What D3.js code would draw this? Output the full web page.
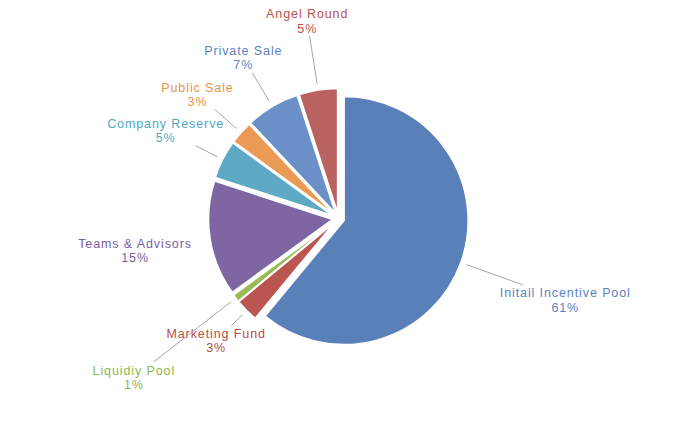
<!DOCTYPE html>
<html>
<head>
<meta charset="utf-8">
<script src="https://cdn.jsdelivr.net/npm/d3@7"></script>
<style>
  html, body { margin: 0; padding: 0; background: #ffffff; }
  svg { display: block; }
</style>
</head>
<body>
<svg id="chart" width="696" height="425"></svg>
<script>
// ---- data ----
const categories = ["Initail Incentive Pool", "Marketing Fund", "Liquidiy Pool", "Teams & Advisors",
                    "Company Reserve", "Public Sale", "Private Sale", "Angel Round"];
const shares = [61, 3, 1, 15, 5, 3, 7, 5];
const percentLabels = ["61%", "3%", "1%", "15%", "5%", "3%", "7%", "5%"];

// ---- layout / style ----
const sliceColors = ["#5a80b9", "#bb5550", "#9bbb59", "#7e66a3", "#5eaac6", "#eb9a56", "#6b90c8", "#b9625f"];
const textColors  = ["#5b82c0", "#b84c47", "#8db64f", "#7a5fa3", "#4fa9c4", "#e8924a", "#5b84c4", "#bb524f"];
const labelDistance = [241, 173, 259, 206, 194, 188, 187, 200];

const W = 696, H = 425;
const cx = 338.5, cy = 218.5, radius = 124, explode = 6;
const leaderStart = radius + explode + 6;

const svg = d3.select("#chart");
const g = svg.append("g").attr("transform", `translate(${cx},${cy})`);

const rows = categories.map((c, i) => ({ name: c, value: shares[i], pct: percentLabels[i], i }));
const pie = d3.pie().sort(null).value(d => d.value).startAngle(0).endAngle(2 * Math.PI);
const arcs = pie(rows);
const arcGen = d3.arc().innerRadius(0).outerRadius(radius);

const mid = a => (a.startAngle + a.endAngle) / 2;
const dir = a => [Math.sin(mid(a)), -Math.cos(mid(a))];

// slices
g.selectAll("path.slice")
  .data(arcs)
  .join("path")
  .attr("class", "slice")
  .attr("d", arcGen)
  .attr("transform", a => { const [ux, uy] = dir(a); return `translate(${ux * explode},${uy * explode})`; })
  .attr("fill", a => sliceColors[a.data.i])
  .attr("stroke", "#ffffff")
  .attr("stroke-width", 1.5)
  .attr("stroke-linejoin", "miter");

// labels
const fontSize = 12.5, lineH = 14.3;
const labels = g.selectAll("g.lab")
  .data(arcs)
  .join("g")
  .attr("class", "lab")
  .attr("transform", a => { const [ux, uy] = dir(a); const dd = labelDistance[a.data.i]; return `translate(${ux * dd},${uy * dd})`; });

labels.append("text")
  .attr("text-anchor", "middle")
  .attr("font-family", "'Liberation Sans', Arial, sans-serif")
  .attr("font-size", fontSize)
  .attr("letter-spacing", 0.9)
  .attr("fill", a => textColors[a.data.i])
  .each(function (a) {
    const t = d3.select(this);
    t.append("tspan").attr("x", 0).attr("y", -lineH / 2 + 4.5).text(a.data.name);
    t.append("tspan").attr("x", 0).attr("y", lineH / 2 + 4.5).text(a.data.pct);
  });

// leader lines: radial from slice edge toward label, stopping at label box
const leaders = g.append("g");
labels.each(function (a) {
  const bb = this.getBBox();
  const [ux, uy] = dir(a);
  const dd = labelDistance[a.data.i];
  const hw = bb.width / 2 + 3, hh = bb.height / 2 + 1;
  const tx = Math.abs(ux) > 1e-6 ? hw / Math.abs(ux) : Infinity;
  const ty = Math.abs(uy) > 1e-6 ? hh / Math.abs(uy) : Infinity;
  const endDist = dd - Math.min(tx, ty);
  if (endDist - leaderStart > 14) {
    leaders.append("line")
      .attr("x1", ux * leaderStart).attr("y1", uy * leaderStart)
      .attr("x2", ux * endDist).attr("y2", uy * endDist)
      .attr("stroke", "#a6a6a6")
      .attr("stroke-width", 1);
  }
});
</script>
</body>
</html>
